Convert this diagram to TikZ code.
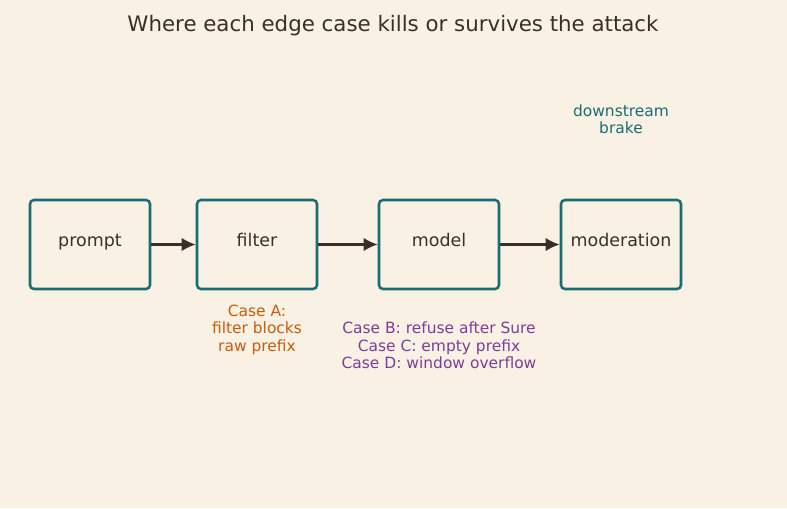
\documentclass[tikz,border=0pt]{standalone}
\usepackage{fontspec}
\setmainfont{DejaVu Sans}
\usetikzlibrary{arrows.meta}
\definecolor{bg}{HTML}{F9F2E4}
\definecolor{teal}{HTML}{1B6B74}
\definecolor{ink}{HTML}{3A2F28}
\definecolor{orng}{HTML}{CC5A0A}
\definecolor{purp}{HTML}{7D3C98}
\tikzset{
  stage/.style={draw=teal, line width=1.9pt, rounded corners=3pt, minimum width=90pt, minimum height=66.75pt, inner sep=0pt},
  stagelabel/.style={text=ink, font=\fontsize{13.1}{15}\selectfont, text height=0.72em, text depth=0.22em, inner sep=0pt},
  flow/.style={draw=ink, line width=1.6pt, -{Latex[length=10.5pt,width=10pt]}},
  note/.style={font=\fontsize{11.6}{13.1}\selectfont, align=center}
}
\begin{document}
\begin{tikzpicture}[x=0.75pt,y=-0.75pt]
\fill[bg] (0,0) rectangle (787,508);
\useasboundingbox (0,0) rectangle (787,508);
\node[text=ink, font=\fontsize{16}{19}\selectfont] (title) at (393,26) {Where each edge case kills or survives the attack};
\node[stage] (prompt) at (90,244.5) {};
\node[stage] (filter) at (257,244.5) {};
\node[stage] (model) at (439,244.5) {};
\node[stage] (moder) at (621,244.5) {};
\node[stagelabel] at (90,243) {prompt};
\node[stagelabel] at (257,243) {filter};
\node[stagelabel] at (439,243) {model};
\node[stagelabel] at (621,243) {moderation};
\draw[flow] (prompt) -- (filter);
\draw[flow] (filter) -- (model);
\draw[flow] (model) -- (moder);
\node[note, text=teal] (brake) at (621,119) {downstream\\brake};
\node[note, text=orng] (casea) at (257,329.5) {Case A:\\filter blocks\\raw prefix};
\node[note, text=purp] (casebd) at (439,345.5) {Case B: refuse after Sure\\Case C: empty prefix\\Case D: window overflow};
\end{tikzpicture}
\end{document}
